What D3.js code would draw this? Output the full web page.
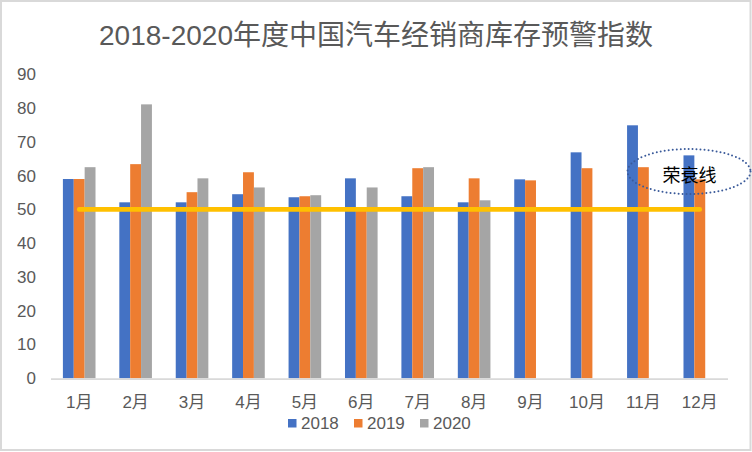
<!DOCTYPE html>
<html>
<head>
<meta charset="utf-8">
<script src="https://cdn.jsdelivr.net/npm/d3@7"></script>
<style>
  html, body { margin: 0; padding: 0; background: #fff; }
  svg { display: block; }
  text { font-family: "Liberation Sans", "Noto Sans CJK SC", sans-serif; }
</style>
</head>
<body>
<svg id="chart" width="752" height="452"></svg>
<script>
const titleText = "2018-2020年度中国汽车经销商库存预警指数";
const months = ["1月","2月","3月","4月","5月","6月","7月","8月","9月","10月","11月","12月"];
const seriesNames = ["2018","2019","2020"];
const values2018 = [59, 52.1, 52.1, 54.5, 53.6, 59.2, 53.9, 52.1, 58.9, 66.9, 74.9, 66];
const values2019 = [59, 63.4, 55.1, 61, 53.9, 50.3, 62.2, 59.2, 58.6, 62.2, 62.5, 58.9];
const values2020 = [62.5, 81.1, 59.2, 56.5, 54.2, 56.5, 62.5, 52.7, null, null, null, null];
const yTicks = [0, 10, 20, 30, 40, 50, 60, 70, 80, 90];
const thresholdValue = 50;
const annotationText = "荣衰线";
const colors = ["#4472C4", "#ED7D31", "#A5A5A5"];

const seriesValues = [values2018, values2019, values2020];
const svg = d3.select("#chart");

// outer border
svg.append("rect")
  .attr("x", 1).attr("y", 1).attr("width", 749.5).attr("height", 449)
  .attr("fill", "#fff").attr("stroke", "#d9d9d9").attr("stroke-width", 2);

const plotLeft = 51, plotRight = 728;
const x0 = d3.scaleBand().domain(months).range([plotLeft, plotRight]).padding(0);
const bw = x0.bandwidth();
const groupW = bw * 0.578;
const x1 = d3.scaleBand().domain(seriesNames)
  .range([(bw - groupW) / 2, (bw + groupW) / 2]).padding(0);
const y = d3.scaleLinear().domain([0, 90]).range([378.3, 74.3]);

// title
svg.append("text")
  .attr("x", 376).attr("y", 45)
  .attr("text-anchor", "middle")
  .attr("font-size", 28)
  .attr("fill", "#595959")
  .text(titleText);

// y axis labels
const yAxis = d3.axisLeft(y).tickValues(yTicks).tickSize(0).tickPadding(0);
const yg = svg.append("g").attr("transform", "translate(36,0)").call(yAxis);
yg.select(".domain").remove();
yg.selectAll("text")
  .attr("font-size", 17)
  .attr("fill", "#595959")
  .attr("font-family", "Liberation Sans, sans-serif");

// bars
const rows = [];
months.forEach((m, i) => {
  seriesNames.forEach((s, k) => {
    const v = seriesValues[k][i];
    if (v != null) rows.push({ m, s, k, v });
  });
});
svg.append("g").selectAll("rect")
  .data(rows).join("rect")
  .attr("x", d => x0(d.m) + x1(d.s))
  .attr("width", x1.bandwidth())
  .attr("y", d => y(d.v))
  .attr("height", d => y(0) - y(d.v))
  .attr("fill", d => colors[d.k]);

// x axis line
svg.append("line")
  .attr("x1", plotLeft).attr("x2", plotRight)
  .attr("y1", y(0) + 0.8).attr("y2", y(0) + 0.8)
  .attr("stroke", "#d9d9d9").attr("stroke-width", 1.6);

// x labels
const xAxis = d3.axisBottom(x0).tickSize(0).tickPadding(0);
const xg = svg.append("g").attr("transform", "translate(0,392)").call(xAxis);
xg.select(".domain").remove();
xg.selectAll("text")
  .attr("font-size", 17)
  .attr("fill", "#595959")
  .attr("dy", "0")
  .attr("y", 16);

// threshold line
svg.append("line")
  .attr("x1", x0(months[0]) + bw / 2)
  .attr("x2", x0(months[months.length - 1]) + bw / 2)
  .attr("y1", y(thresholdValue)).attr("y2", y(thresholdValue))
  .attr("stroke", "#FFC000").attr("stroke-width", 4.6)
  .attr("stroke-linecap", "round");

// annotation ellipse
svg.append("ellipse")
  .attr("cx", 689).attr("cy", 171.5).attr("rx", 61.5).attr("ry", 22.5)
  .attr("fill", "none")
  .attr("stroke", "#3A5A9A").attr("stroke-width", 2)
  .attr("stroke-dasharray", "0 4")
  .attr("stroke-linecap", "round");
svg.append("text")
  .attr("x", 689.5).attr("y", 182)
  .attr("text-anchor", "middle")
  .attr("font-size", 18)
  .attr("fill", "#000")
  .attr("font-family", "Noto Sans CJK SC, sans-serif")
  .text(annotationText);

// legend
const legend = svg.append("g").attr("transform", "translate(288,0)");
const items = legend.selectAll("g").data(seriesNames).join("g")
  .attr("transform", (d, i) => `translate(${i * 66},0)`);
items.append("rect")
  .attr("x", 0).attr("y", 419).attr("width", 8.5).attr("height", 8.5)
  .attr("fill", (d, i) => colors[i]);
items.append("text")
  .attr("x", 13).attr("y", 429)
  .attr("font-size", 17)
  .attr("fill", "#595959")
  .text(d => d);
</script>
</body>
</html>
